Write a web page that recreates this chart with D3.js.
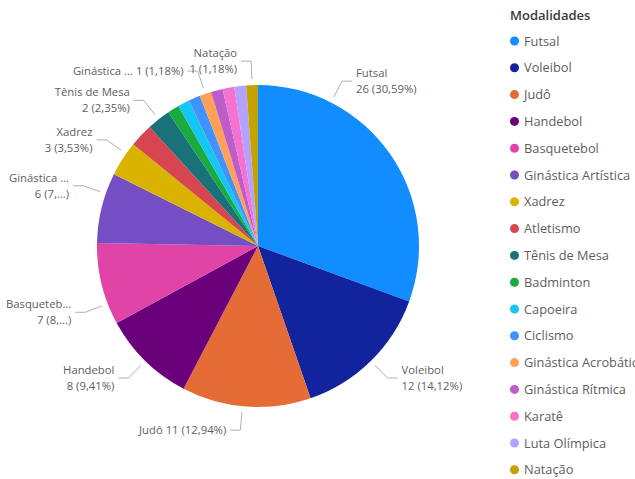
<!DOCTYPE html>
<html>
<head>
<meta charset="utf-8">
<script src="https://cdn.jsdelivr.net/npm/d3@7"></script>
<style>
  html, body { margin: 0; padding: 0; background: #fff; overflow: hidden; }
  svg { display: block; font-family: "Open Sans", "Noto Sans", sans-serif; }
</style>
</head>
<body>
<svg id="chart" width="635" height="479"></svg>
<script>
// ---- data ----
const categories = ["Futsal", "Voleibol", "Judô", "Handebol", "Basquetebol", "Ginástica Artística",
  "Xadrez", "Atletismo", "Tênis de Mesa", "Badminton", "Capoeira", "Ciclismo",
  "Ginástica Acrobática", "Ginástica Rítmica", "Karatê", "Luta Olímpica", "Natação"];
const values = [26, 12, 11, 8, 7, 6, 3, 2, 2, 1, 1, 1, 1, 1, 1, 1, 1];
const colors = ["#118DFF", "#12239E", "#E66C37", "#6B007B", "#E044A7", "#744EC2",
  "#D9B300", "#D64550", "#197278", "#1AAB40", "#15C6F4", "#4092FF",
  "#FFA058", "#BE5DC9", "#F472D0", "#B5A1FF", "#C4A200"];
const legendTitle = "Modalidades";

// ---- layout (label placement rules) ----
const labelRules = {
  "Futsal": { angle: 27, lines: 2 },
  "Voleibol": { lines: 2 },
  "Judô": { angle: 185.5, lines: 1 },
  "Handebol": { lines: 2 },
  "Basquetebol": { angle: 249, lines: 2, titleChars: 9, valueChars: 5 },
  "Ginástica Artística": { angle: 289, lines: 2, titleChars: 10, valueChars: 5 },
  "Xadrez": { angle: 305, lines: 2 },
  "Tênis de Mesa": { lines: 2 },
  "Ginástica Acrobática": { lines: 1, titleChars: 10 },
  "Natação": { lines: 2 }
};

const W = 635, H = 479;
const cx = 258, cy = 246, R = 161;
const svg = d3.select("#chart");

const total = d3.sum(values);
const data = categories.map((c, i) => ({ name: c, value: values[i], color: colors[i] }));

const pie = d3.pie().value(d => d.value).sort(null);
const arcs = pie(data);
const arc = d3.arc().innerRadius(0).outerRadius(R);

const g = svg.append("g").attr("transform", `translate(${cx},${cy})`);
g.selectAll("path.slice").data(arcs).join("path")
  .attr("class", "slice")
  .attr("d", arc)
  .attr("fill", d => d.data.color);

// labels
const fmtPct = v => (v / total * 100).toFixed(2).replace(".", ",") + "%";
const trunc = (s, n) => (n == null || s.length <= n) ? s : s.slice(0, n) + "..." + (s.endsWith(")") ? ")" : "");
const ringPoint = (ang, r) => d3.arc().innerRadius(r).outerRadius(r)
  .startAngle(ang).endAngle(ang).centroid();

const labelG = g.append("g");
arcs.forEach(a => {
  const rule = labelRules[a.data.name];
  if (!rule) return;
  const mid = rule.angle != null ? rule.angle * Math.PI / 180 : (a.startAngle + a.endAngle) / 2;
  const p0 = ringPoint(mid, R + 6);
  const p1 = ringPoint(mid, R + 24);
  const right = Math.sin(mid) >= 0;
  const p2 = [p1[0] + (right ? 10 : -10), p1[1]];
  labelG.append("polyline")
    .attr("points", [p0, p1, p2].map(p => p.join(",")).join(" "))
    .attr("fill", "none").attr("stroke", "#B3B0AD").attr("stroke-width", 1);
  const tx = p2[0] + (right ? 4 : -4);
  const title = trunc(a.data.name, rule.titleChars);
  const val = trunc(`${a.data.value} (${fmtPct(a.data.value)})`, rule.valueChars);
  const t = labelG.append("text")
    .attr("text-anchor", right ? "start" : "end")
    .attr("font-size", 11.3).attr("fill", "#605E5C");
  if (rule.lines === 1) {
    t.append("tspan").attr("x", tx).attr("y", p2[1] + 4).text(`${title} ${val}`);
  } else {
    t.append("tspan").attr("x", tx).attr("y", p2[1] - 4).text(title);
    t.append("tspan").attr("x", tx).attr("y", p2[1] + 12).text(val);
  }
});

// legend
const lg = svg.append("g").attr("transform", "translate(509,0)");
lg.append("text").attr("x", 1).attr("y", 20)
  .attr("font-size", 13).attr("font-weight", 600).attr("fill", "#3B3A39")
  .text(legendTitle);
const items = lg.selectAll("g.item").data(data).join("g")
  .attr("class", "item")
  .attr("transform", (d, i) => `translate(0,${41 + i * 26.8})`);
items.append("circle").attr("cx", 5.5).attr("cy", 0).attr("r", 4.5).attr("fill", d => d.color);
items.append("text").attr("x", 15).attr("y", 4.5)
  .attr("font-size", 12.8).attr("fill", "#605E5C")
  .text(d => d.name);
</script>
</body>
</html>
